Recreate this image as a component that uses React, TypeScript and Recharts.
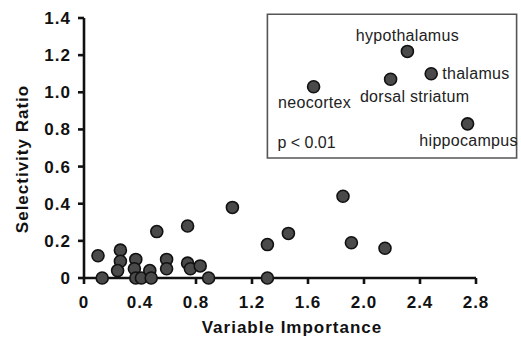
import React from 'react';
import {
  ScatterChart,
  Scatter,
  XAxis,
  YAxis,
  ReferenceArea,
  Label,
} from 'recharts';

// all variables (lower cluster)
const varImportance = [
  0.1, 0.13, 0.26, 0.26, 0.24, 0.37, 0.36, 0.37, 0.41, 0.47, 0.48, 0.52, 0.59,
  0.59, 0.74, 0.74, 0.76, 0.83, 0.89, 1.06, 1.31, 1.46, 1.85, 1.91, 2.15, 1.31,
];
const selRatio = [
  0.12, 0, 0.15, 0.09, 0.04, 0.1, 0.05, 0, 0, 0.04, 0, 0.25, 0.1, 0.05, 0.28,
  0.08, 0.05, 0.065, 0, 0.38, 0.18, 0.24, 0.44, 0.19, 0.16, 0,
];

// brain regions (inset)
const regionNames = ['hypothalamus', 'thalamus', 'dorsal striatum', 'neocortex', 'hippocampus'];
const regionImportance = [2.31, 2.48, 2.19, 1.64, 2.74];
const regionRatio = [1.22, 1.1, 1.07, 1.03, 0.83];

const xTicks = [0, 0.4, 0.8, 1.2, 1.6, 2.0, 2.4, 2.8];
const yTicks = [0, 0.2, 0.4, 0.6, 0.8, 1.0, 1.2, 1.4];

const FONT = '"Liberation Sans", Arial, Helvetica, sans-serif';

const labelSpots: Record<string, { dx: number; dy: number; anchor: 'start' | 'middle' | 'end' }> = {
  hypothalamus: { dx: 0, dy: -10, anchor: 'middle' },
  thalamus: { dx: 11, dy: 5, anchor: 'start' },
  'dorsal striatum': { dx: 24, dy: 23, anchor: 'middle' },
  neocortex: { dx: 1, dy: 21, anchor: 'middle' },
  hippocampus: { dx: 1, dy: 22, anchor: 'middle' },
};

const fmt = (v: number) => (v === 0 ? '0' : v.toFixed(1));

function Dot(props: any) {
  const { cx, cy } = props;
  return <circle cx={cx} cy={cy} r={6} fill="#4a4a4a" stroke="#111" strokeWidth={1.6} />;
}

function RegionDot(props: any) {
  const { cx, cy, payload } = props;
  const s = labelSpots[payload.name];
  return (
    <g>
      <circle cx={cx} cy={cy} r={6} fill="#4a4a4a" stroke="#111" strokeWidth={1.6} />
      <text
        x={cx + s.dx}
        y={cy + s.dy}
        textAnchor={s.anchor}
        fontSize={16}
        fontFamily={FONT}
        fill="#222"
        letterSpacing={0.3}
      >
        {payload.name}
      </text>
    </g>
  );
}

function YTitle(props: any) {
  const { viewBox } = props;
  const x = viewBox.x + 22;
  const y = viewBox.y + viewBox.height / 2 + 11;
  return (
    <text
      x={x}
      y={y}
      transform={`rotate(-90, ${x}, ${y})`}
      textAnchor="middle"
      dominantBaseline="central"
      fontSize={17}
      fontWeight="bold"
      fontFamily={FONT}
      letterSpacing={1}
      fill="#111"
    >
      Selectivity Ratio
    </text>
  );
}

function XTitle(props: any) {
  const { viewBox } = props;
  const x = viewBox.x + viewBox.width / 2 + 12;
  return (
    <text
      x={x}
      y={327}
      textAnchor="middle"
      dominantBaseline="central"
      fontSize={17}
      fontWeight="bold"
      fontFamily={FONT}
      letterSpacing={1}
      fill="#111"
    >
      Variable Importance
    </text>
  );
}

export default function App() {
  const mainData = varImportance.map((x, i) => ({ x, y: selRatio[i] }));
  const regionData = regionNames.map((name, i) => ({
    name,
    x: regionImportance[i],
    y: regionRatio[i],
  }));
  const tickStyle = {
    fill: '#111',
    fontSize: 17,
    fontWeight: 'bold',
    fontFamily: FONT,
    letterSpacing: 1,
  };

  return (
    <div style={{ position: 'absolute', left: 0, top: 0, background: '#fff' }}>
      <ScatterChart
        width={521}
        height={339}
        margin={{ top: 18, right: 45, left: 0, bottom: 0 }}
      >
        <XAxis
          type="number"
          dataKey="x"
          domain={[0, 2.8]}
          ticks={xTicks}
          tickFormatter={fmt}
          interval={0}
          height={61}
          tick={tickStyle}
          tickSize={6}
          tickMargin={12}
          axisLine={{ stroke: '#111', strokeWidth: 2.6 }}
          tickLine={{ stroke: '#111', strokeWidth: 2.6 }}
        >
          <Label content={<XTitle />} />
        </XAxis>
        <YAxis
          type="number"
          dataKey="y"
          domain={[0, 1.4]}
          ticks={yTicks}
          tickFormatter={fmt}
          interval={0}
          width={84}
          tick={tickStyle}
          tickSize={6}
          tickMargin={7}
          axisLine={{ stroke: '#111', strokeWidth: 2.6 }}
          tickLine={{ stroke: '#111', strokeWidth: 2.6 }}
        >
          <Label content={<YTitle />} />
        </YAxis>
        <ReferenceArea
          x1={1.31}
          x2={3.09}
          y1={0.646}
          y2={1.42}
          ifOverflow="visible"
          fill="none"
          fillOpacity={0}
          stroke="#555"
          strokeWidth={1.6}
          label={{
            value: 'p < 0.01',
            position: 'insideBottomLeft',
            offset: 10,
            fontSize: 16,
            fontFamily: FONT,
            fill: '#222',
          }}
        />
        <Scatter data={mainData} shape={<Dot />} isAnimationActive={false} />
        <Scatter data={regionData} shape={<RegionDot />} isAnimationActive={false} />
      </ScatterChart>
    </div>
  );
}
